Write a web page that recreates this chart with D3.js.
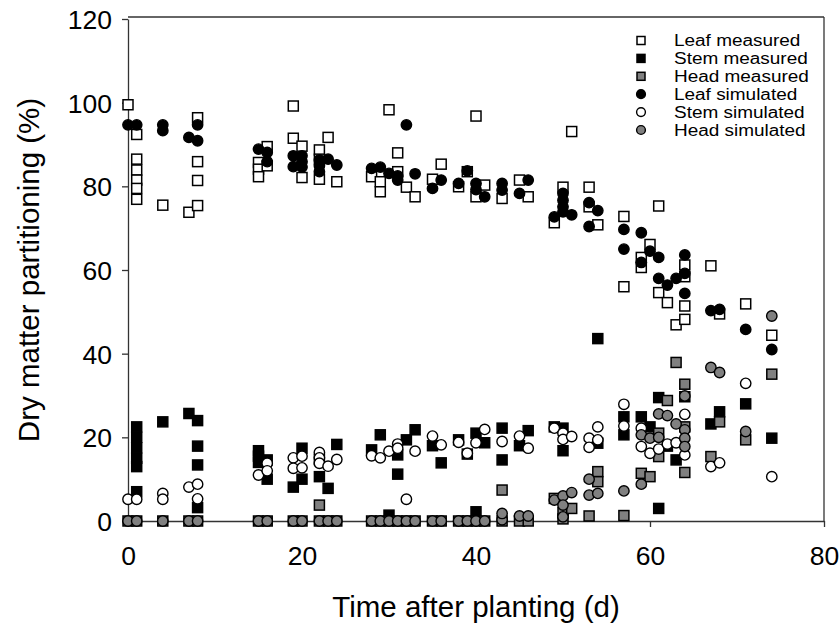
<!DOCTYPE html>
<html>
<head>
<meta charset="utf-8">
<script src="https://cdn.jsdelivr.net/npm/d3@7"></script>
<style>
  html, body { margin: 0; padding: 0; background: #fff; }
  svg { display: block; font-family: "Liberation Sans", Arial, sans-serif; }
</style>
</head>
<body>
<svg id="chart" width="840" height="625"></svg>
<script>
// Dry matter partitioning of a crop over time: [day after planting, percent]
const leafMeasured = [
  [0,99.5],[1,92.4],[1,86.5],[1,83.9],[1,81.5],[1,79.5],[1,76.9],[4,75.5],[7,73.8],[8,96.4],[8,85.9],[8,81.4],[8,75.4],
  [15,85.7],[15,84.1],[15,82.3],[16,89.5],[16,84.9],
  [19,99.2],[19,91.5],[20,89.6],[20,82.1],
  [22,88.7],[22,86.5],[22,81.7],[23,91.7],[24,81.1],
  [28,82.3],[29,81.1],[29,78.7],[30,98.3],[31,88.0],[31,83.5],[32,79.8],[33,77.5],[35,81.7],[36,85.3],[38,79.9],
  [39,83.5],[40,96.8],[40,77.5],[41,80.3],[43,77.1],[45,81.5],[46,77.5],
  [49,71.3],[50,79.8],[51,93.1],[53,79.8],[53,75.1],[54,70.8],[57,72.8],[57,56.0],[59,63.0],[59,60.6],[60,66.1],
  [61,75.3],[61,54.6],[62,52.2],[63,46.9],[64,61.2],[64,58.4],[64,51.4],[64,48.2],[67,61.0],[68,49.5],[71,51.9],[74,44.4]
];
const stemMeasured = [
  [1,22.5],[1,20],[1,17.5],[1,15],[1,13],[1,7],[4,23.7],[7,25.7],[8,24],[8,17.9],[8,13.4],[8,3.2],
  [15,16.8],[15,15.5],[15,14],[16,14.6],[16,10],
  [19,8.1],[20,17.4],[20,10],
  [22,14.7],[22,10.6],[23,7.8],[24,18.3],
  [28,17],[29,20.6],[30,1.4],[31,15.8],[31,11.2],[32,19.4],[33,21.8],[35,18],[36,13.9],[38,19.4],[39,16],[40,21],
  [40,2.2],[41,18.7],[43,22.2],[43,14.6],[45,18],[46,21.6],
  [49,22.5],[50,22.2],[50,16.8],[54,18.6],[54,43.6],[57,24.9],[57,20.6],[59,24.9],[60,22.5],[61,29.5],[61,3],
  [62,17.9],[63,14.6],[64,29.7],[67,23.2],[68,26.1],[71,28],[74,19.8]
];
const headMeasured = [
  [0,0],[1,0],[4,0],[7,0],[8,0],[15,0],[16,0],[19,0],[20,0],[22,0],[22,3.8],[23,0],[24,0],
  [28,0],[29,0],[30,0],[31,0],[32,0],[33,0],[35,0],[36,0],[38,0],[39,0],[40,0],[41,0],[43,0],[43,7.4],[45,0],[46,0],
  [49,5.4],[50,2],[50,0.5],[51,3],[53,1.2],[54,11.8],[54,9.4],[57,1.3],[59,11.4],[60,10.6],[61,21],[61,15.4],
  [62,28.8],[63,37.9],[64,32.7],[64,22.5],[64,11.6],[67,15.4],[68,23.7],[71,19.4],[74,35.1]
];
const leafSimulated = [
  [0,94.7],[1,94.7],[4,94.7],[4,93.3],[7,91.7],[8,90.9],[8,94.7],
  [15,88.9],[16,88.1],[16,85.9],
  [19,87.3],[19,84.7],[20,87.3],[20,84.6],[20,85.9],
  [22,86.3],[22,84.9],[22,83.5],[23,86.5],[24,85.1],
  [28,84.3],[29,84.6],[30,83.1],[31,82.5],[31,81.5],[32,94.7],[33,83],[35,79.5],[36,81.5],[38,80.7],[39,83.7],
  [40,80.7],[40,79.2],[41,77.5],[43,80.7],[43,79.1],[45,78.3],[46,81.5],
  [49,72.7],[50,78.3],[50,76.7],[50,75.1],[50,73.9],[51,73.2],[53,76.1],[53,70.4],[54,74.2],[57,69.7],[57,65],
  [59,68.9],[59,61.8],[60,64.5],[61,63],[61,58],[62,56.4],[63,58],[64,63.6],[64,59.2],[64,54.4],
  [67,50.3],[68,50.6],[71,45.8],[74,41]
];
const stemSimulated = [
  [0,5.2],[1,5.2],[4,6.6],[4,5.2],[7,8.1],[8,8.8],[8,5.3],
  [15,11],[16,13.8],[16,12],[19,15.1],[19,12.6],[20,15.5],[20,12.7],[22,16.4],[22,15.1],[22,13.8],[23,13.1],[24,14.7],
  [28,15.6],[29,15.1],[30,16.7],[31,18.4],[31,17.4],[32,5.2],[33,16.7],[35,20.3],[36,18.2],[38,18.8],[39,16.2],
  [40,18.7],[41,21.9],[43,19],[45,20.3],[46,17.4],
  [49,22.2],[50,21],[50,19.5],[51,20.2],[53,19.8],[53,17.6],[54,22.5],[54,19.4],[57,27.9],[57,22.7],[59,22.2],
  [59,17.8],[60,16.2],[61,17.2],[62,18.4],[63,18.7],[64,25.5],[64,15.8],[67,13],[68,13.9],[71,32.9],[74,10.6]
];
const headSimulated = [
  [0,0],[1,0],[4,0],[7,0],[8,0],[15,0],[16,0],[19,0],[20,0],[22,0],[23,0],[24,0],
  [28,0],[29,0],[30,0],[31,0],[32,0],[33,0],[35,0],[36,0],[38,0],[39,0],[40,0],[41,0],[43,0.3],[43,1.8],[45,1.2],[46,1.2],
  [49,5],[50,6],[50,3.8],[50,1],[51,6.8],[53,10],[53,6.2],[54,6.6],[57,7.2],[59,8.8],[59,20.6],[60,19.8],
  [61,25.6],[61,20],[62,25.2],[63,23.2],[64,29.9],[64,21.8],[64,19.8],[64,17.8],[67,36.7],[68,35.5],[71,21.4],[74,49]
];

const xTicks = [0, 20, 40, 60, 80];
const yTicks = [0, 20, 40, 60, 80, 100, 120];

const seriesNames = ["Leaf measured", "Stem measured", "Head measured",
                     "Leaf simulated", "Stem simulated", "Head simulated"];

const series = [
  { name: seriesNames[0], data: leafMeasured,  shape: "square", fill: "#ffffff" },
  { name: seriesNames[1], data: stemMeasured,  shape: "square", fill: "#000000" },
  { name: seriesNames[2], data: headMeasured,  shape: "square", fill: "#808080" },
  { name: seriesNames[3], data: leafSimulated, shape: "circle", fill: "#000000" },
  { name: seriesNames[4], data: stemSimulated, shape: "circle", fill: "#ffffff" },
  { name: seriesNames[5], data: headSimulated, shape: "circle", fill: "#808080" }
];

const svg = d3.select("#chart");
const plotLeft = 128, plotRight = 824, plotTop = 19, plotBottom = 521;

const x = d3.scaleLinear().domain([0, 80]).range([plotLeft, plotRight]);
const y = d3.scaleLinear().domain([0, 120]).range([plotBottom, plotTop]);

const axisColor = "#333";

// frame lines (top and right)
svg.append("line").attr("x1", plotLeft).attr("x2", plotRight).attr("y1", plotTop - 2).attr("y2", plotTop - 2)
  .attr("stroke", axisColor).attr("stroke-width", 1.3);
svg.append("line").attr("x1", plotRight).attr("x2", plotRight).attr("y1", plotTop - 2).attr("y2", plotBottom)
  .attr("stroke", axisColor).attr("stroke-width", 1.3);

// axes
const gx = svg.append("g").attr("transform", `translate(0,${plotBottom})`)
  .call(d3.axisBottom(x).tickValues(xTicks).tickSize(6).tickSizeOuter(0).tickPadding(19));
const gy = svg.append("g").attr("transform", `translate(${plotLeft},0)`)
  .call(d3.axisLeft(y).tickValues(yTicks).tickSize(6).tickSizeOuter(0).tickPadding(10));

[gx, gy].forEach(g => {
  g.select(".domain").attr("stroke", axisColor).attr("stroke-width", 1.3);
  g.selectAll(".tick line").attr("stroke", axisColor).attr("stroke-width", 1.3);
  g.selectAll(".tick text").attr("fill", "#000").attr("font-size", 26.5)
    .attr("font-family", "'Liberation Sans', Arial, sans-serif");
});
gy.selectAll(".tick text").attr("dy", "0.36em");

// axis titles
svg.append("text").attr("x", (plotLeft + plotRight) / 2).attr("y", 617)
  .attr("text-anchor", "middle").attr("font-size", 29.5).text("Time after planting (d)");
svg.append("text").attr("transform", `translate(39,${(plotTop + plotBottom) / 2}) rotate(-90)`)
  .attr("text-anchor", "middle").attr("font-size", 29.5).text("Dry matter partitioning (%)");

// markers
const sq = 10, rad = 5.2;
function drawMarker(g, shape, fill, cx, cy, s, r) {
  if (shape === "square") {
    g.append("rect").attr("x", cx - s / 2).attr("y", cy - s / 2).attr("width", s).attr("height", s)
      .attr("fill", fill).attr("stroke", "#000").attr("stroke-width", 1.5);
  } else {
    g.append("circle").attr("cx", cx).attr("cy", cy).attr("r", r)
      .attr("fill", fill).attr("stroke", "#000").attr("stroke-width", 1.4);
  }
}

const plot = svg.append("g");
series.forEach(s => {
  const g = plot.append("g").attr("class", "series");
  s.data.forEach(d => drawMarker(g, s.shape, s.fill, x(d[0]), y(d[1]), sq, rad));
});

// legend: compact rows, text slightly widened
const legend = svg.append("g");
series.forEach((s, i) => {
  const cy = 40.5 + i * 17.9;
  drawMarker(legend, s.shape, s.fill, 641, cy, 8, 4.4);
  legend.append("text").attr("transform", `translate(674,${cy}) scale(1.2,1)`)
    .attr("dy", "0.35em").attr("font-size", 15.8).text(s.name);
});
</script>
</body>
</html>
